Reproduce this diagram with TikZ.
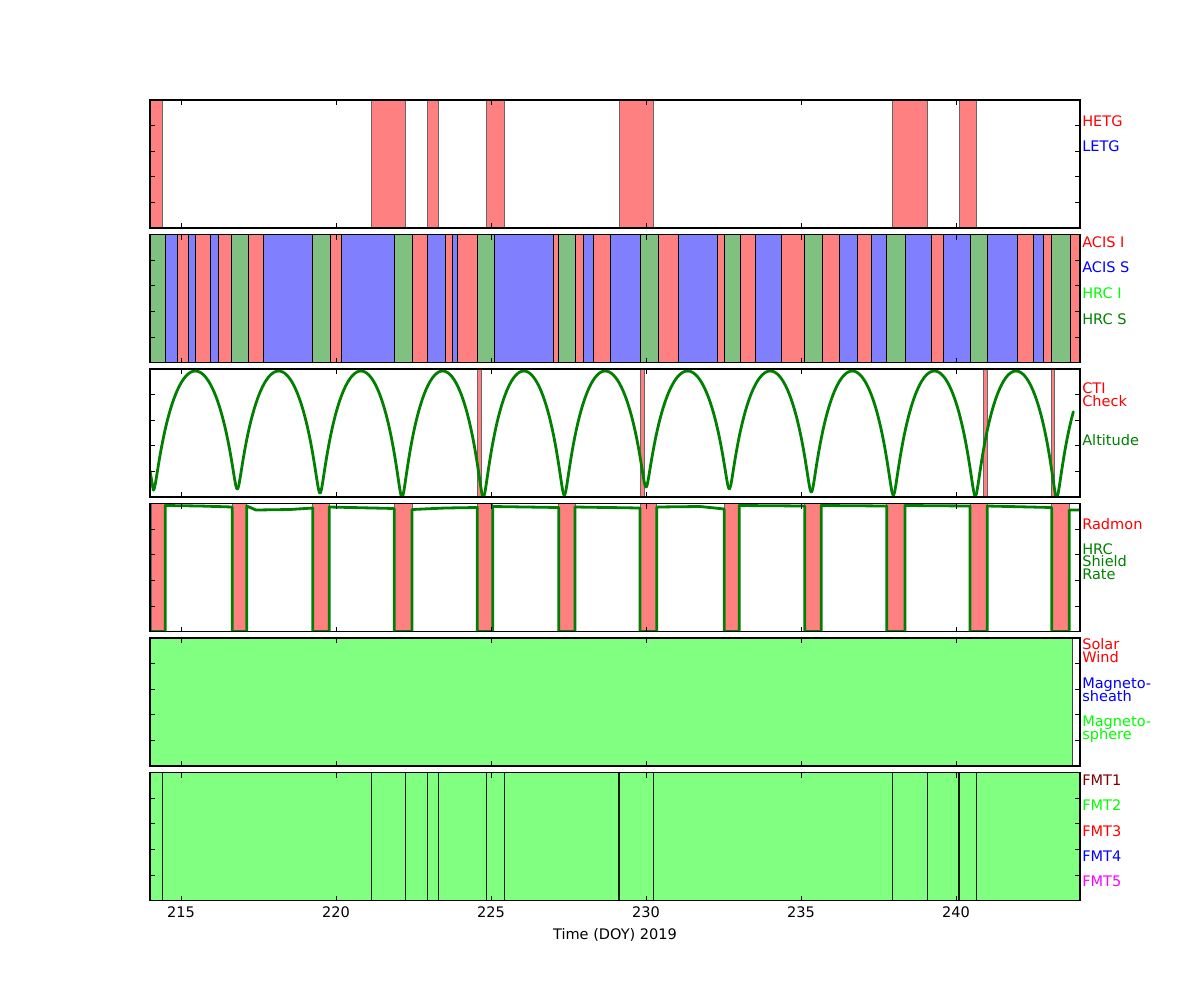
\documentclass[tikz,border=0pt]{standalone}
\usepackage{fontspec}
\setmainfont{DejaVu Sans}
\definecolor{rfill}{RGB}{255,128,128}
\definecolor{bfill}{RGB}{128,128,255}
\definecolor{gfill}{RGB}{128,192,128}
\definecolor{lfill}{RGB}{128,255,128}
\definecolor{mplgreen}{RGB}{0,128,0}
\definecolor{mpllime}{RGB}{0,255,0}
\definecolor{mplred}{RGB}{255,0,0}
\definecolor{mplblue}{RGB}{0,0,255}
\definecolor{mplmaroon}{RGB}{128,0,0}
\definecolor{mplmagenta}{RGB}{255,0,255}
\begin{document}
\begin{tikzpicture}[x=0.75pt,y=-0.75pt,
  spine/.style={draw=black, line width=1pt},
  tickmark/.style={draw=black, line width=0.6pt},
  lbl/.style={anchor=base west, inner sep=0pt, font=\fontsize{10.9}{12}\selectfont},
  ticklbl/.style={anchor=base, inner sep=0pt, font=\fontsize{10.9}{12}\selectfont},
  barR/.style={fill=rfill, draw=black!60, line width=0.6pt},
  barB/.style={fill=bfill, draw=black, line width=0.7pt},
  barG/.style={fill=gfill, draw=black, line width=0.7pt},
  barL/.style={fill=lfill, draw=black!90, line width=0.9pt},
  datline/.style={draw=mplgreen, line width=2.1pt, line join=round, line cap=round}
]
\useasboundingbox (0,0) rectangle (1200,1000);
\fill[white] (0,0) rectangle (1200,1000);

% panel tops
\def\Ta{100}\def\Tb{234.5}\def\Tc{369}\def\Td{503.5}\def\Te{638}\def\Tf{772.5}

% ---------- Panel 1: gratings ----------
\foreach \a/\b in {150/162.7, 371.3/405.7, 427.3/438.7, 486.3/504.7, 619/653.7, 892.3/927.7, 959/976.7}
  \path[barR] (\a,\Ta) rectangle (\b,\Ta+128);

% ---------- Panel 2: instruments ----------
\foreach \a/\b/\c in {150/165.3/G, 165.3/177.3/B, 177.3/188.7/R, 188.7/195.7/B, 195.7/210.3/R, 210.3/218.7/B, 218.7/231.7/R, 231.7/248.7/G, 248.7/263.7/R, 263.7/312.3/B, 312.3/330.7/G, 330.7/341.7/R, 341.7/394/B, 394/412.7/G, 412.7/427.3/R, 427.3/445.7/B, 445.7/452.7/R, 452.7/457.7/B, 457.7/477.3/R, 477.3/494.7/G, 494.7/553.3/B, 553.3/558.7/R, 558.7/575.7/G, 575.7/583.7/R, 583.7/593.7/B, 593.7/610.3/R, 610.3/640.7/B, 640.7/658.7/G, 658.7/678.7/R, 678.7/717.7/B, 717.7/724.7/R, 724.7/740.7/G, 740.7/755.7/R, 755.7/781.7/B, 781.7/804.7/R, 804.7/822.7/G, 822.7/839.7/R, 839.7/857.7/B, 857.7/871.7/R, 871.7/886.7/B, 886.7/905.7/G, 905.7/931.7/B, 931.7/943.7/R, 943.7/970.7/B, 970.7/987.7/G, 987.7/1017.7/B, 1017.7/1033.7/R, 1033.7/1043.7/B, 1043.7/1051.7/R, 1051.7/1070/G, 1070/1080/R}
  \path[bar\c, draw=black, line width=0.7pt] (\a,\Tb) rectangle (\b,\Tb+128);

% ---------- Panel 3: CTI + altitude ----------
\foreach \a/\b in {477.7/481.7, 640/644, 983.3/987.3, 1051.7/1054}
  \path[barR] (\a,\Tc) rectangle (\b,\Tc+128);
\begin{scope}
\clip (150,\Tc) rectangle (1080,\Tc+128);
\draw[datline] (150,471) -- (153.3,490);
\foreach \ma/\mb/\ya/\yb in {153.3/237.3/490/489, 237.3/320/489/493, 320/402/493/497, 402/483.3/497/497, 483.3/564.3/497/495, 564.3/646/495/487, 646/729.3/487/488.7, 729.3/811.3/488.7/492, 811.3/893.3/492/495, 893.3/975.3/495/496, 975.3/1056.7/496/497}{
  \draw[datline] plot[domain=0:180, samples=50, variable=\t] ({\ma+(\mb-\ma)/360*(\t-40.1*sin(\t))}, {\ya-(1-cos(\t))/2*(\ya-371)});
  \draw[datline] plot[domain=180:360, samples=50, variable=\t] ({\ma+(\mb-\ma)/360*(\t-40.1*sin(\t))}, {\yb-(1-cos(\t))/2*(\yb-371)});
}
\draw[datline] plot[domain=0:110.6, samples=40, variable=\t] ({1056.7+82/360*(\t-40.1*sin(\t))}, {497-(1-cos(\t))/2*(497-371)});
\end{scope}

% ---------- Panel 4: radmon + shield rate ----------
\foreach \a/\b in {151/165.3, 232.3/246.7, 312.7/329.3, 394.3/412, 477.3/492.7, 558.7/575, 640/656.7, 724.3/739.3, 804.7/821.3, 886.7/905, 970/987.3, 1051.7/1069.3}
  \path[barR] (\a,\Td) rectangle (\b,\Td+128);
\begin{scope}
\clip (150,\Td) rectangle (1080,\Td+128);
\draw[datline] (151,631.5) -- (165.3,631.5) -- (165.3,505.5) -- (200,506) -- (232.3,507) -- (232.3,631.5) -- (246.7,631.5) -- (246.7,506) -- (256,510) -- (290,509.5) -- (312.7,508) -- (312.7,631.5) -- (329.3,631.5) -- (329.3,507) -- (394.3,508.5) -- (394.3,631.5) -- (412,631.5) -- (412,509.5) -- (445,508) -- (477.3,507.5) -- (477.3,631.5) -- (492.7,631.5) -- (492.7,506.5) -- (558.7,507.5) -- (558.7,631.5) -- (575,631.5) -- (575,507) -- (640,508) -- (640,631.5) -- (656.7,631.5) -- (656.7,507) -- (700,506.5) -- (724.3,509) -- (724.3,631.5) -- (739.3,631.5) -- (739.3,505.5) -- (804.7,506) -- (804.7,631.5) -- (821.3,631.5) -- (821.3,505.5) -- (886.7,506) -- (886.7,631.5) -- (905,631.5) -- (905,505.5) -- (970,506) -- (970,631.5) -- (987.3,631.5) -- (987.3,506) -- (1051.7,507.5) -- (1051.7,631.5) -- (1069.3,631.5) -- (1069.3,510) -- (1080,510);
\end{scope}

% ---------- Panel 5: environment ----------
\path[fill=lfill, draw=black!75, line width=0.7pt] (150,\Te) rectangle (1072.3,\Te+128);

% ---------- Panel 6: formats ----------
\foreach \a/\b in {150/162.7, 162.7/371.3, 371.3/405.7, 405.7/427.3, 427.3/438.7, 438.7/486.3, 486.3/504.7, 504.7/619, 619/653.7, 653.7/892.3, 892.3/927.7, 927.7/959, 959/976.7, 976.7/1080}
  \path[barL] (\a,\Tf) rectangle (\b,\Tf+128);

% ---------- ticks and spines ----------
\foreach \T in {\Ta,\Tb,\Tc,\Td,\Te,\Tf}{
  \foreach \d in {215,220,...,240}{
    \draw[tickmark] ({150+31*(\d-214)},\T) -- ++(0,5);
    \draw[tickmark] ({150+31*(\d-214)},\T+128) -- ++(0,-5);
  }
  \foreach \k in {1,2,3,4}{
    \draw[tickmark] (150,\T+25.6*\k) -- ++(5,0);
    \draw[tickmark] (1080,\T+25.6*\k) -- ++(-5,0);
  }
  \draw[spine] (150,\T) rectangle (1080,\T+128);
}

% ---------- right-hand labels ----------
\node[lbl, text=mplred]  (hetg) at (1082,126) {HETG};
\node[lbl, text=mplblue] (letg) at (1082,151) {LETG};

\node[lbl, text=mplred]   (acisi) at (1082,247) {ACIS I};
\node[lbl, text=mplblue]  (aciss) at (1082,272.7) {ACIS S};
\node[lbl, text=mpllime]  (hrci)  at (1082,298.3) {HRC I};
\node[lbl, text=mplgreen] (hrcs)  at (1082,324) {HRC S};

\node[lbl, text=mplred]   (cti)   at (1082,393.3) {CTI};
\node[lbl, text=mplred]   (check) at (1082,406.7) {Check};
\node[lbl, text=mplgreen] (alt)   at (1082,445.7) {Altitude};

\node[lbl, text=mplred]   (radmon) at (1082,529) {Radmon};
\node[lbl, text=mplgreen] (hrcsh)  at (1082,554) {HRC};
\node[lbl, text=mplgreen] (shield) at (1082,566.7) {Shield};
\node[lbl, text=mplgreen] (rate)   at (1082,579.3) {Rate};

\node[lbl, text=mplred]  (solar) at (1082,649.3) {Solar};
\node[lbl, text=mplred]  (wind)  at (1082,662.7) {Wind};
\node[lbl, text=mplblue] (msha)  at (1082,688.3) {Magneto-};
\node[lbl, text=mplblue] (mshb)  at (1082,701.7) {sheath};
\node[lbl, text=mpllime] (mspa)  at (1082,726) {Magneto-};
\node[lbl, text=mpllime] (mspb)  at (1082,739.3) {sphere};

\node[lbl, text=mplmaroon]  (fmta) at (1082,785) {FMT1};
\node[lbl, text=mpllime]    (fmtb) at (1082,810) {FMT2};
\node[lbl, text=mplred]     (fmtc) at (1082,836) {FMT3};
\node[lbl, text=mplblue]    (fmtd) at (1082,861.7) {FMT4};
\node[lbl, text=mplmagenta] (fmte) at (1082,886.7) {FMT5};

% ---------- x axis ----------
\foreach \d in {215,220,...,240}
  \node[ticklbl] (tl\d) at ({150+31*(\d-214)},917.3) {\d};
\node[ticklbl] (xlabel) at (615,939) {Time (DOY) 2019};
\end{tikzpicture}
\end{document}
